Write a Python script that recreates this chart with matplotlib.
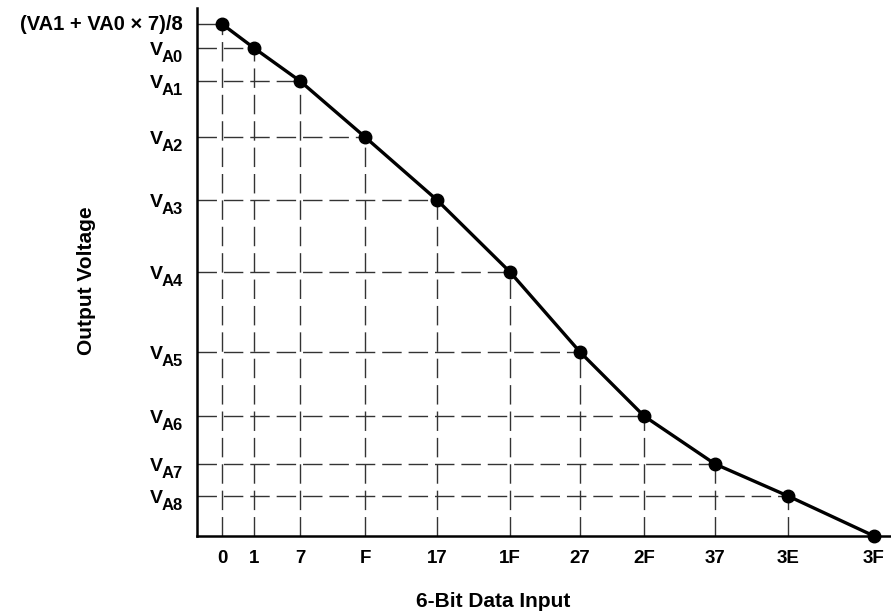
import matplotlib
matplotlib.use("Agg")
import matplotlib.pyplot as plt
from matplotlib.transforms import blended_transform_factory, offset_copy

plt.rcParams['font.family'] = ['Liberation Sans', 'DejaVu Sans']

# Data (positions, arbitrary units)
x_labels = ['0', '1', '7', 'F', '17', '1F', '27', '2F', '37', '3E', '3F']
x_pos = [25, 57, 103, 168, 240, 313, 383, 447, 518, 591, 677]
y_vals = [512, 488, 455, 399, 336, 264, 184, 120, 72, 40, 0]
top_label = '(VA1 + VA0 \u00d7 7)/8'
v_subs = ['A0', 'A1', 'A2', 'A3', 'A4', 'A5', 'A6', 'A7', 'A8']

W, H = 891, 611
fig = plt.figure(figsize=(W / 100, H / 100), dpi=100)
left, right, top, bottom = 197, 891, 8, 536
ax = fig.add_axes([left / W, (H - bottom) / H, (right - left) / W, (bottom - top) / H])
ax.set_xlim(0, right - left)
ax.set_ylim(0, bottom - top)

grid_kw = dict(color='#333333', lw=1.0, linestyles=(0, (14, 5)), zorder=1)
ax.hlines(y_vals[:-1], 0, x_pos[:-1], **grid_kw)
ax.vlines(x_pos[:-1], 0, y_vals[:-1], **grid_kw)

ax.plot(x_pos, y_vals, color='black', lw=2.4, marker='o', markersize=9,
        zorder=3, clip_on=False, solid_joinstyle='round')

for s in ['top', 'right']:
    ax.spines[s].set_visible(False)
for s in ['left', 'bottom']:
    ax.spines[s].set_linewidth(1.8)
    ax.spines[s].set_color('black')

ax.set_xticks(x_pos)
ax.set_xticklabels(x_labels, fontsize=13.5, fontweight='bold')
ax.set_yticks([])
ax.tick_params(axis='both', length=0)
ax.tick_params(axis='x', pad=10)

# y-axis labels: V with subscripted A-number
trans = blended_transform_factory(ax.transAxes, ax.transData)
px = 72.0 / fig.dpi  # points per pixel
ax.text(0, y_vals[0], top_label, transform=offset_copy(trans, fig=fig, x=-14 * px, y=0, units='points'),
        ha='right', va='center', fontsize=14.5, fontweight='bold')
for yv, sub in zip(y_vals[1:-1], v_subs):
    ax.text(0, yv, 'V', transform=offset_copy(trans, fig=fig, x=-34 * px, y=-7 * px, units='points'),
            ha='right', va='baseline', fontsize=14, fontweight='bold')
    ax.text(0, yv, sub, transform=offset_copy(trans, fig=fig, x=-14 * px, y=-14 * px, units='points'),
            ha='right', va='baseline', fontsize=12, fontweight='bold')

fig.text(86 / W, 1 - 281 / H, 'Output Voltage', rotation=90, ha='center', va='center',
         fontsize=15, fontweight='bold')
fig.text(493 / W, 1 - 607 / H, '6-Bit Data Input', ha='center', va='baseline',
         fontsize=15, fontweight='bold')

fig.savefig('out.png', dpi=100)
